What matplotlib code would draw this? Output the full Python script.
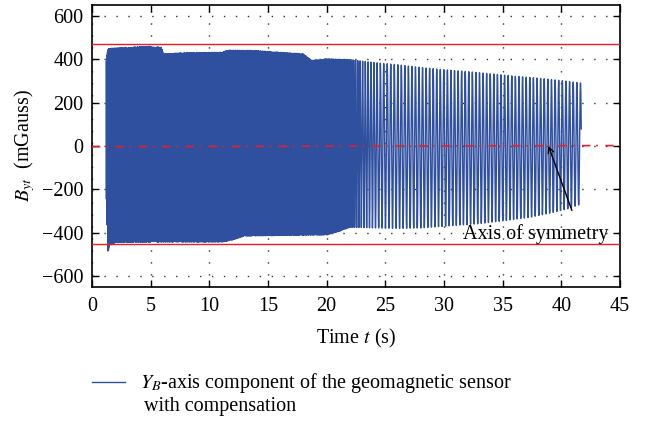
import numpy as np
import matplotlib
matplotlib.use("Agg")
import matplotlib.pyplot as plt
from matplotlib.lines import Line2D

# ---- values ----
# upper envelope of the oscillating signal (time s, mGauss)
upper_t = [1.2, 1.4, 3.0, 5.0, 5.9, 6.1, 8.0, 11.0, 11.5, 14.0, 16.0, 18.0, 18.7,
           20.0, 22.0, 24.0, 26.0, 28.0, 30.0, 32.0, 34.0, 36.0, 38.0, 40.0, 41.7]
upper_v = [405, 450, 455, 460, 455, 425, 430, 432, 442, 440, 432, 425, 395,
           402, 398, 385, 375, 362, 352, 343, 333, 322, 313, 302, 290]
# lower envelope
lower_t = [1.2, 1.35, 1.5, 2.0, 6.0, 11.0, 12.0, 13.0, 20.0, 21.0, 22.0, 26.0,
           28.0, 30.0, 33.0, 35.0, 37.3, 39.0, 40.5, 41.7]
lower_v = [-190, -490, -460, -445, -443, -443, -433, -415, -410, -395, -375, -380,
           -378, -370, -358, -345, -329, -310, -290, -268]
# oscillation period (s) read from the spacing of the strokes
period_t = [1.2, 21.5, 23.0, 25.0, 41.7]
period_v = [0.06, 0.09, 0.22, 0.30, 0.31]

bound_upper = 470
bound_lower = -452
axis_t = [0, 45]
axis_v = [-3, 2]

# carrier built from the read envelope and period
t = np.arange(1.2, 41.7, 0.003)
per = np.interp(t, period_t, period_v)
phase = 2 * np.pi * np.cumsum(np.gradient(t) / per)
up = np.interp(t, upper_t, upper_v)
lo = np.interp(t, lower_t, lower_v)
sig = (up + lo) / 2 + (up - lo) / 2 * np.cos(phase)

plt.rcParams['font.family'] = ['Liberation Serif', 'DejaVu Serif']
plt.rcParams['mathtext.fontset'] = 'stix'
FS = 14.5

fig = plt.figure(figsize=(6.45, 4.28), dpi=100)
ax = fig.add_axes([92/645, 1 - 287/428, (620-92)/645, (287-5)/428])

blue = '#2f4f9f'
red = '#ee1c25'
ax.plot(t, sig, color=blue, lw=1.0, zorder=3)
ax.axhline(bound_upper, color=red, lw=1.0, zorder=4)
ax.axhline(bound_lower, color=red, lw=1.0, zorder=4)
ax.plot(axis_t, axis_v, color=red, lw=1.2, linestyle=(0, (5, 3.5, 1, 4.5)), zorder=4)

ax.set_xlim(0, 45)
ax.set_ylim(-650, 650)
ax.set_xticks(np.arange(0, 46, 5))
ax.set_yticks(np.arange(-600, 601, 200))
ax.set_yticklabels(['\u2212600', '\u2212400', '\u2212200', '0', '200', '400', '600'])
ax.tick_params(direction='in', top=True, right=True, length=5, width=1.0,
               labelsize=FS, colors='black')
ax.tick_params(axis='x', pad=7)
ax.tick_params(axis='y', pad=6)
for s in ax.spines.values():
    s.set_linewidth(1.2)
ax.grid(True, color='#333333', lw=1.0, linestyle=(0, (1, 7.6)), zorder=1)

ax.set_xlabel('Time $t$ (s)', fontsize=FS, labelpad=8)
ax.set_ylabel('$B_{yt}$  (mGauss)', fontsize=FS, labelpad=4)

ax.annotate('', xy=(38.9, 0), xytext=(40.9, -297), zorder=6,
            arrowprops=dict(arrowstyle='->', color='black', lw=1.0,
                            shrinkA=0, shrinkB=0))
ax.text(37.8, -405, 'Axis of symmetry', fontsize=FS, ha='center', va='center', zorder=6)

fig.add_artist(Line2D([92/645, 125/645], [1 - 382/428, 1 - 382/428], color=blue, lw=1.0))
fig.text(140/645, 1 - 383/428, '$Y_B$-axis component of the geomagnetic sensor',
         fontsize=FS, ha='left', va='center')
fig.text(144/645, 1 - 406/428, 'with compensation',
         fontsize=FS, ha='left', va='center')

fig.savefig('out.png', dpi=100)
